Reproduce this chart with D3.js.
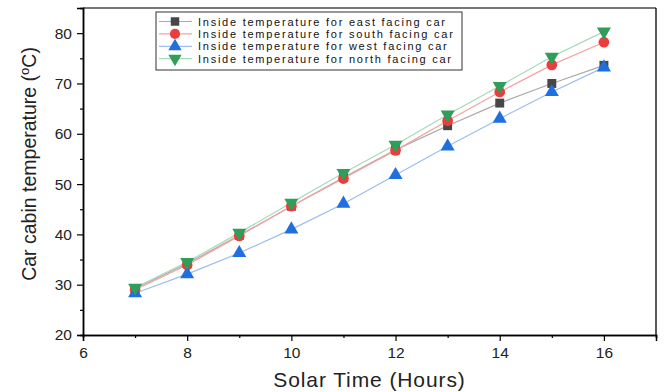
<!DOCTYPE html>
<html>
<head>
<meta charset="utf-8">
<script src="https://cdn.jsdelivr.net/npm/d3@7"></script>
<style>
  body { margin: 0; background: #fff; }
  text { font-family: "Liberation Sans", Arial, sans-serif; }
</style>
</head>
<body>
<svg id="chart" width="665" height="392"></svg>
<script>
// data
var hours = [7, 8, 9, 10, 11, 12, 13, 14, 15, 16];
var eastTemp = [29.2, 34.2, 39.8, 45.6, 51.3, 56.8, 61.6, 66.1, 70.0, 73.6];
var southTemp = [29.0, 33.9, 39.7, 45.6, 51.1, 56.7, 62.6, 68.3, 73.7, 78.2];
var westTemp = [28.3, 32.1, 36.3, 41.0, 46.1, 51.8, 57.5, 63.0, 68.3, 73.2];
var northTemp = [29.4, 34.5, 40.3, 46.3, 52.2, 57.8, 63.8, 69.5, 75.3, 80.3];
var seriesNames = [
    'Inside temperature for east facing car',
    'Inside temperature for south facing car',
    'Inside temperature for west facing car',
    'Inside temperature for north facing car'
];
var xTicks = [6, 8, 10, 12, 14, 16];
var yTicks = [20, 30, 40, 50, 60, 70, 80];

var series = [
    { name: seriesNames[0], values: eastTemp, shape: d3.symbolSquare, color: '#474747', line: '#a9a9a9', size: 80, rot: 0 },
    { name: seriesNames[1], values: southTemp, shape: d3.symbolCircle, color: '#ec3d3d', line: '#f5a3a3', size: 90, rot: 0 },
    { name: seriesNames[2], values: westTemp, shape: d3.symbolTriangle, color: '#1f6fe0', line: '#9bbdf0', size: 85, rot: 0 },
    { name: seriesNames[3], values: northTemp, shape: d3.symbolTriangle, color: '#2f9e5a', line: '#a6d9b8', size: 85, rot: 180 }
];

var m = { top: 8, right: 9, bottom: 57, left: 83 };
var svg = d3.select('#chart');
var W = 665 - m.left - m.right, H = 392 - m.top - m.bottom;
var g = svg.append('g').attr('transform', 'translate(' + m.left + ',' + m.top + ')');

var x = d3.scaleLinear().domain([6, 17]).range([0, W]);
var y = d3.scaleLinear().domain([20, 85]).range([H, 0]);

//frame
g.append('line').attr('x1', 0).attr('x2', W).attr('y1', 0).attr('y2', 0)
    .attr('stroke', '#777').attr('stroke-width', 2);
g.append('line').attr('x1', W).attr('x2', W).attr('y1', 0).attr('y2', H)
    .attr('stroke', '#000').attr('stroke-width', 1.3);

//axes
g.append('g').attr('transform', 'translate(0,' + H + ')')
    .call(d3.axisBottom(x).tickValues(xTicks).tickFormat(d3.format('d')).tickSize(6).tickPadding(6));
g.append('g').attr('transform', 'translate(0,' + H + ')')
    .call(d3.axisBottom(x).tickValues(d3.range(7, 18, 2)).tickFormat('').tickSize(3));
g.append('g')
    .call(d3.axisLeft(y).tickValues(yTicks).tickFormat(d3.format('d')).tickSize(6).tickPadding(5));
g.append('g')
    .call(d3.axisLeft(y).tickValues(d3.range(25, 85, 10)).tickFormat('').tickSize(3));
g.selectAll('.domain').attr('stroke', '#000').attr('stroke-width', 1.5);
g.selectAll('.tick line').attr('stroke', '#000').attr('stroke-width', 1.2);
g.selectAll('.tick text').attr('font-size', 15.5).attr('fill', '#222')
    .style('font-family', '"Liberation Sans", Arial, sans-serif');

//axis titles
svg.append('text')
    .attr('transform', 'translate(36,' + (m.top + y(54)) + ') rotate(-90)')
    .attr('text-anchor', 'middle').attr('font-size', 19.5).attr('fill', '#222')
    .style('font-family', '"Liberation Sans Narrow", "Liberation Sans", Arial, sans-serif')
    .html('Car cabin temperature (<tspan font-size="13" dy="-7">o</tspan><tspan dy="7">C)</tspan>');
svg.append('text')
    .attr('x', m.left + x(11.5)).attr('y', 387)
    .attr('text-anchor', 'middle').attr('font-size', 21).attr('fill', '#222')
    .attr('letter-spacing', 0.9)
    .text('Solar Time (Hours)');

//series
var line = d3.line().x(function (d) { return x(d[0]); }).y(function (d) { return y(d[1]); });
series.forEach(function (s) {
    var pts = hours.map(function (h, i) { return [h, s.values[i]]; });
    g.append('path').datum(pts).attr('d', line)
        .attr('fill', 'none').attr('stroke', s.line).attr('stroke-width', 1.2);
});
series.forEach(function (s) {
    var pts = hours.map(function (h, i) { return [h, s.values[i]]; });
    g.selectAll(null).data(pts).enter().append('path')
        .attr('d', d3.symbol().type(s.shape).size(s.size))
        .attr('transform', function (d) {
            return 'translate(' + x(d[0]) + ',' + y(d[1]) + ') rotate(' + s.rot + ')';
        })
        .attr('fill', s.color);
});

//legend
var rowH = 12.4;
var lg = svg.append('g').attr('transform', 'translate(156,12)');
lg.append('rect').attr('width', 306).attr('height', 58)
    .attr('fill', '#fff').attr('stroke', '#333').attr('stroke-width', 1);
series.forEach(function (s, i) {
    var ry = 9.5 + i * rowH;
    lg.append('line').attr('x1', 3).attr('x2', 36).attr('y1', ry).attr('y2', ry)
        .attr('stroke', s.line).attr('stroke-width', 1.2);
    lg.append('path')
        .attr('d', d3.symbol().type(s.shape).size(s.size * 0.9))
        .attr('transform', 'translate(19,' + ry + ') rotate(' + s.rot + ')')
        .attr('fill', s.color);
    lg.append('text').attr('x', 42).attr('y', ry + 4)
        .attr('font-size', 11).attr('letter-spacing', 1.75).attr('fill', '#111')
        .text(s.name);
});
</script>
</body>
</html>
